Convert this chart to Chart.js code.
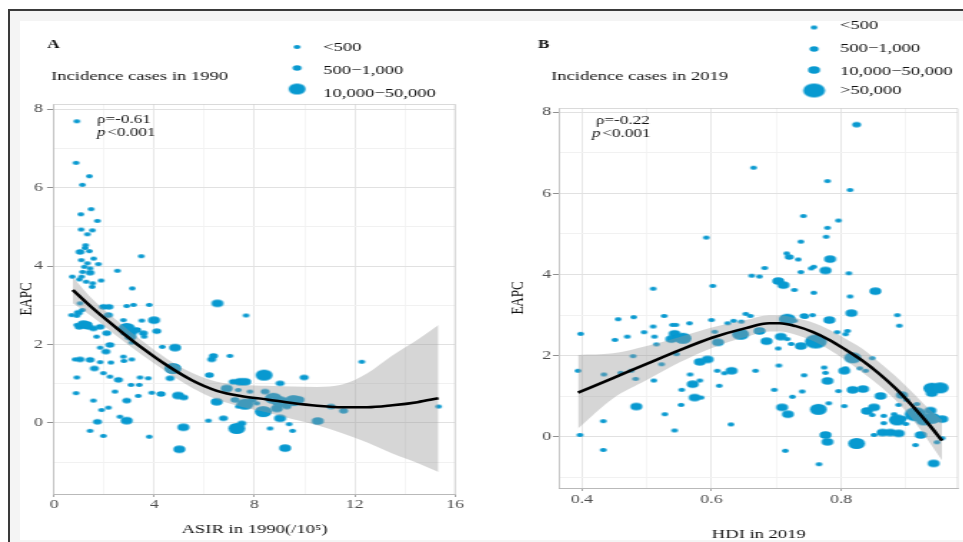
<!DOCTYPE html>
<html><head><meta charset="utf-8"><title>EAPC vs ASIR / HDI</title>
<script src="https://cdn.jsdelivr.net/npm/chart.js@4/dist/chart.umd.min.js"></script>
<style>
html,body{margin:0;padding:0;width:963px;height:542px;overflow:hidden;background:#fff;position:relative;}
#frame{position:absolute;left:8px;top:9px;width:1100px;height:700px;border-top:2px solid #3a3a3a;border-left:2px solid #3a3a3a;background:#f4f4f4;}
#inner{position:absolute;left:20px;top:21px;width:1100px;height:519px;background:#fff;}
.cv{position:absolute;top:0;transform-origin:0 0;transform:scaleX(1.43);}
</style></head>
<body>
<div id="frame"></div><div id="inner"></div>
<canvas id="cA" class="cv" width="336" height="542" style="left:0"></canvas>
<canvas id="cB" class="cv" width="338" height="542" style="left:480px"></canvas>
<script>
// ================= DATA =================
// Panel A : ASIR in 1990 vs EAPC, grouped by size class of incidence cases
const aXs = [[0.91,7.69],[0.88,6.63],[1.41,6.29],[1.13,6.07],[1.48,5.45],[1.07,5.32],[1.73,5.15],[1.08,4.93],[1.53,4.91],[1.33,4.81],[1.26,4.53],[1.24,4.46],[1.41,4.38],[1.09,4.15],[1.58,4.19],[1.77,4.05],[1.33,4.07],[1.21,3.98],[1.44,3.94],[3.48,4.25],[2.53,3.88],[1.14,3.85],[0.73,3.73],[1.10,3.73],[1.01,3.66],[1.28,3.60],[1.88,3.63],[1.54,3.56],[1.52,3.47],[3.12,3.43],[7.66,2.74],[1.04,3.05],[2.90,2.98],[3.17,3.01],[3.80,3.01],[0.91,2.73],[1.13,2.88],[0.70,2.75],[2.77,2.62],[3.50,2.61],[0.91,2.50],[1.70,2.20],[3.60,2.20],[3.10,2.05],[1.84,1.92],[4.32,1.94],[2.77,1.69],[0.84,1.62],[1.84,1.55],[2.27,1.54],[2.79,1.58],[3.10,1.62],[7.02,1.71],[12.28,1.56],[0.91,1.16],[1.97,1.27],[2.23,1.18],[3.43,1.16],[3.76,1.14],[3.07,0.97],[3.40,0.97],[2.43,0.80],[3.90,0.77],[3.36,0.69],[0.88,0.76],[7.35,0.84],[7.82,0.80],[7.35,0.42],[8.09,0.50],[15.34,0.42],[9.38,-0.03],[9.52,-0.20],[8.62,-0.14],[6.16,0.06],[3.80,-0.35],[2.63,0.16],[1.44,-0.20],[1.97,-0.33],[1.57,0.57],[1.90,0.33],[2.17,0.39]];
const aS = [[1.04,4.36],[1.44,3.83],[1.97,2.96],[2.19,2.96],[2.17,2.75],[0.97,2.81],[1.37,2.45],[1.84,2.45],[3.30,2.37],[2.10,2.29],[3.56,2.29],[4.10,2.34],[2.07,1.82],[1.04,1.62],[1.44,1.61],[1.61,1.39],[6.29,1.62],[7.15,1.05],[2.57,1.10],[4.27,0.74],[9.02,1.01],[9.98,1.16],[8.42,0.80],[9.29,0.42],[11.05,0.42],[11.55,0.31],[7.22,0.59],[7.49,-0.01],[6.76,0.12],[1.73,0.03],[2.90,0.57],[6.36,1.71],[6.20,1.22],[4.63,1.14],[2.23,1.99],[1.57,2.41],[2.83,2.29],[1.00,2.45],[7.90,0.58],[1.20,2.47],[5.18,0.65]];
const aM = [[6.52,3.05],[3.99,2.62],[1.17,2.52],[1.30,2.50],[3.10,2.33],[3.05,2.20],[4.83,1.92],[7.42,1.05],[7.62,1.05],[6.89,0.88],[4.95,0.70],[9.02,0.12],[8.89,0.37],[9.75,0.59],[6.49,0.54],[5.16,-0.11],[5.00,-0.67],[9.22,-0.64],[2.90,0.06],[10.52,0.05]];
const aL = [[2.90,2.41],[8.38,1.22],[7.29,-0.14],[8.75,0.63],[9.02,0.54],[9.55,0.57],[8.35,0.29],[7.62,0.48],[4.74,1.39]];
// fitted curve and confidence band, panel A
const fitAx = [0.75,1.5,2.5,3.5,4.5,5.5,6.5,7.5,8.5,9.5,10.5,11.5,12.5,13.5,14.5,15.34];
const fitAy = [3.39,2.95,2.42,1.92,1.47,1.09,0.82,0.68,0.60,0.51,0.44,0.40,0.40,0.45,0.53,0.63];
const bandAhi = [3.72,3.18,2.62,2.10,1.64,1.28,1.05,0.97,0.95,0.93,0.92,0.98,1.27,1.72,2.12,2.50];
const bandAlo = [3.05,2.72,2.22,1.74,1.30,0.90,0.60,0.41,0.27,0.10,-0.06,-0.26,-0.50,-0.78,-1.02,-1.25];

// Panel B : HDI in 2019 vs EAPC
const bXs = [[0.665,6.63],[0.779,6.30],[0.814,6.08],[0.742,5.44],[0.796,5.33],[0.779,5.15],[0.592,4.91],[0.777,4.93],[0.738,4.81],[0.716,4.52],[0.734,4.37],[0.682,4.16],[0.758,4.19],[0.754,4.15],[0.738,4.06],[0.812,4.03],[0.662,3.97],[0.674,3.95],[0.728,3.62],[0.758,3.55],[0.510,3.65],[0.602,3.72],[0.814,3.46],[0.653,3.03],[0.660,2.98],[0.887,3.00],[0.745,2.96],[0.756,3.00],[0.456,2.90],[0.480,2.95],[0.527,2.98],[0.600,2.88],[0.890,2.74],[0.728,2.86],[0.398,2.54],[0.451,2.39],[0.470,2.47],[0.496,2.58],[0.510,2.72],[0.512,2.47],[0.515,2.28],[0.540,2.76],[0.545,2.76],[0.566,2.80],[0.546,2.04],[0.479,1.99],[0.523,1.79],[0.605,2.59],[0.625,2.80],[0.634,2.86],[0.646,2.84],[0.703,2.18],[0.717,2.41],[0.723,2.29],[0.794,2.58],[0.810,2.61],[0.807,2.53],[0.848,1.94],[0.829,1.69],[0.838,1.63],[0.774,1.71],[0.776,1.58],[0.807,1.69],[0.394,1.63],[0.434,1.54],[0.460,1.58],[0.476,1.63],[0.483,1.43],[0.511,1.39],[0.567,1.54],[0.609,1.63],[0.620,1.57],[0.668,1.63],[0.704,1.76],[0.743,1.52],[0.612,1.26],[0.554,1.16],[0.582,1.39],[0.584,0.97],[0.697,1.16],[0.725,0.99],[0.740,1.12],[0.796,1.13],[0.901,0.91],[0.917,0.81],[0.889,0.79],[0.781,0.83],[0.805,0.76],[0.848,0.54],[0.866,0.52],[0.882,0.56],[0.866,0.34],[0.897,0.46],[0.900,0.32],[0.915,-0.20],[0.851,0.05],[0.948,-0.13],[0.956,-0.03],[0.766,-0.67],[0.714,-0.34],[0.433,-0.32],[0.397,0.05],[0.433,0.39],[0.528,0.56],[0.543,0.16],[0.553,0.79],[0.630,0.31]];
const bS = [[0.824,7.69],[0.720,4.43],[0.743,2.98]];
const bM = [[0.783,4.38],[0.776,4.10],[0.703,3.84],[0.711,3.74],[0.853,3.59],[0.816,3.05],[0.782,2.88],[0.543,2.54],[0.538,2.41],[0.594,1.91],[0.582,1.85],[0.610,2.33],[0.674,2.61],[0.685,2.36],[0.707,2.47],[0.738,2.24],[0.805,1.63],[0.779,1.38],[0.631,1.63],[0.571,1.30],[0.574,0.97],[0.818,1.16],[0.834,1.18],[0.861,1.01],[0.709,0.73],[0.718,0.56],[0.840,0.64],[0.851,0.73],[0.938,0.65],[0.956,0.44],[0.923,0.05],[0.864,0.11],[0.876,0.11],[0.889,0.09],[0.776,0.05],[0.779,-0.12],[0.943,-0.65],[0.484,0.75],[0.940,1.08],[0.894,1.03]];
const bL = [[0.717,2.90],[0.556,2.43],[0.645,2.53],[0.818,1.95],[0.940,1.20],[0.953,1.21],[0.765,0.68],[0.887,0.42],[0.928,0.42],[0.940,0.46],[0.824,-0.16]];
const bXl = [[0.761,2.35],[0.915,0.56]];
// fitted curve and confidence band, panel B
const fitBx = [0.394,0.448,0.500,0.551,0.602,0.653,0.689,0.705,0.730,0.756,0.782,0.807,0.833,0.858,0.884,0.910,0.935,0.956];
const fitBy = [1.09,1.45,1.80,2.14,2.45,2.68,2.80,2.80,2.73,2.59,2.39,2.15,1.88,1.57,1.20,0.77,0.32,-0.09];
const bandBhi = [2.02,2.06,2.24,2.46,2.70,2.88,3.00,3.00,2.93,2.82,2.64,2.42,2.17,1.85,1.50,1.10,0.70,0.42];
const bandBlo = [0.21,0.95,1.40,1.84,2.20,2.46,2.60,2.60,2.52,2.37,2.15,1.89,1.59,1.28,0.91,0.44,-0.10,-0.58];

// ticks and labels
const xTicksA = [0,2,4,6,8,10,12,14,16];
const xLabelsA = ['0','','4','','8','','12','','16'];
const xTicksB = [0.4,0.5,0.6,0.7,0.8,0.9];
const xLabelsB = ['0.4','','0.6','','0.8',''];
const yTicks = [-1,0,1,2,3,4,5,6,7,8];
const yLabels = ['','0','','2','','4','','6','','8'];

// texts
const legendTitleA = 'Incidence cases in 1990';
const legendTitleB = 'Incidence cases in 2019';
const legendLabelsA = ['<500','500\u22121,000','10,000\u221250,000'];
const legendLabelsB = ['<500','500\u22121,000','10,000\u221250,000','>50,000'];
const corrA = '\u03c1=-0.61';
const corrB = '\u03c1=-0.22';
const pText = '<0.001';
const xTitleA = 'ASIR in 1990(/10\u2075)';
const xTitleB = 'HDI in 2019';
const yTitle = 'EAPC';

// ================= STYLE =================
const FONT = '"Liberation Serif", "DejaVu Serif", serif';
const BLUE = '#0899d0';
const MAJOR = '#e1e1e1', MINOR = '#f1f1f1', TICKC = '#8f8f8f', AXIS = '#b9b9b9';

function ellipse(rx, ry){
  const c = document.createElement('canvas');
  const w = Math.ceil(rx*2)+2, h = Math.ceil(ry*2)+2;
  c.width = w; c.height = h;
  const g = c.getContext('2d');
  g.fillStyle = BLUE; g.beginPath(); g.ellipse(w/2, h/2, rx, ry, 0, 0, Math.PI*2); g.fill();
  return c;
}
const SPRITES = {xs: ellipse(2.45,2.0), s: ellipse(3.15,2.75), m: ellipse(4.2,3.75), l: ellipse(5.95,5.5), xl: ellipse(7.7,7.0)};

const decor = {
  id: 'decor',
  afterDraw(chart, args, o){
    const ctx = chart.ctx, a = chart.chartArea;
    ctx.save();
    ctx.strokeStyle = '#d0d0d0'; ctx.lineWidth = 0.8;
    ctx.beginPath(); ctx.moveTo(a.left, a.top+0.5); ctx.lineTo(a.right, a.top+0.5); ctx.lineTo(a.right, a.bottom); ctx.stroke();
    ctx.textBaseline = 'middle'; ctx.textAlign = 'left'; ctx.fillStyle = '#111';
    ctx.font = 'bold 12px ' + FONT; ctx.fillText(o.tag, o.tagX, o.tagY);
    ctx.font = '13px ' + FONT; ctx.fillText(o.title, o.titleX, o.titleY);
    for (let i = 0; i < o.labels.length; i++){
      const sp = SPRITES[o.sizes[i]];
      ctx.drawImage(sp, o.dotX - sp.width/2, o.dotY[i] - sp.height/2);
      ctx.fillText(o.labels[i], o.textX, o.textY[i]);
    }
    ctx.font = '12px ' + FONT; ctx.fillText(o.corr, o.corrX, o.corrY);
    ctx.font = 'italic 12px ' + FONT; ctx.fillText('p', o.pX, o.pY);
    const w = ctx.measureText('p').width;
    ctx.font = '12px ' + FONT; ctx.fillText(pText, o.pX + w + 1.2, o.pY);
    ctx.restore();
  }
};

function pts(data, size, order){
  return {type:'scatter', data: data.map(p => ({x:p[0], y:p[1]})), pointStyle: SPRITES[size], pointRadius: 3, backgroundColor: BLUE, borderWidth: 0, order: order};
}
function curve(xs, ys, extra){
  return Object.assign({type:'line', showLine:true, data: xs.map((x,i) => ({x:x, y:ys[i]})), pointRadius:0, cubicInterpolationMode:'monotone'}, extra);
}

function build(id, c){
  const datasets = [
    curve(c.fx, c.fy, {borderColor:'#000', borderWidth:2.6, fill:false, order:0}),
    curve(c.fx, c.hi, {borderColor:'rgba(0,0,0,0)', borderWidth:0, fill:'+1', backgroundColor:'rgba(153,153,153,0.4)', order:1}),
    curve(c.fx, c.lo, {borderColor:'rgba(0,0,0,0)', borderWidth:0, fill:false, order:2})
  ];
  c.groups.forEach((g, i) => datasets.push(pts(g[0], g[1], 10 - i)));
  return new Chart(document.getElementById(id), {
    type: 'scatter',
    data: {datasets: datasets},
    options: {
      responsive: false, animation: false, events: [],
      layout: {padding: c.pad},
      plugins: {legend: {display:false}, tooltip: {enabled:false}, decor: c.decor},
      scales: {
        x: {
          type:'linear', min:c.xMin, max:c.xMax,
          afterBuildTicks: s => { s.ticks = c.xTicks.map(v => ({value:v})); },
          afterFit: s => { s.height = c.xH; },
          ticks: {callback: (v,i) => c.xLabels[i], autoSkip:false, maxRotation:0, minRotation:0, padding:c.xTickPad, color:'#4d4d4d', font:{family:FONT, size:12.5}},
          grid: {color: t => c.xLabels[t.index] ? MAJOR : MINOR, tickColor: t => c.xLabels[t.index] ? TICKC : 'rgba(0,0,0,0)', tickLength:3, lineWidth:0.8},
          border: {color:AXIS, width:1},
          title: {display:true, text:c.xTitle, color:'#111', font:{family:FONT, size:13, lineHeight:c.xTitleLH}, padding:{top:0, bottom:c.xTitlePad}}
        },
        y: {
          type:'linear', min:c.yMin, max:c.yMax,
          afterBuildTicks: s => { s.ticks = yTicks.map(v => ({value:v})); },
          afterFit: s => { s.width = c.yW; },
          ticks: {callback: (v,i) => yLabels[i], autoSkip:false, padding:c.yTickPad, color:'#4d4d4d', font:{family:FONT, size:12.5}},
          grid: {color: t => yLabels[t.index] ? MAJOR : MINOR, tickColor: t => yLabels[t.index] ? TICKC : 'rgba(0,0,0,0)', tickLength:4.9, lineWidth:1},
          border: {color:AXIS, width:0.8},
          title: {display:true, text:yTitle, color:'#111', font:{family:FONT, size:13, lineHeight:1.2}, padding:{top:c.yTitlePad, bottom:0}}
        }
      }
    },
    plugins: [decor]
  });
}

build('cA', {
  fx: fitAx, fy: fitAy, hi: bandAhi, lo: bandAlo,
  groups: [[aXs,'xs'],[aS,'s'],[aM,'m'],[aL,'l']],
  pad: {left:0, right:17.8, top:104, bottom:0},
  xMin:0, xMax:16, yMin:-1.81, yMax:8.13,
  xTicks: xTicksA, xLabels: xLabelsA, xH:48, xTickPad:0.5,
  xTitle: xTitleA, xTitleLH:1.2, xTitlePad:4.2,
  yW:37.76, yTickPad:2.8, yTitlePad:11.1,
  decor: {tag:'A', tagX:32.9, tagY:45, title:legendTitleA, titleX:35.7, titleY:77,
          labels:legendLabelsA, sizes:['xs','s','l'], dotX:207.7, dotY:[47,68,89], textX:225.9, textY:[48,71,94],
          corr:corrA, corrX:67.8, corrY:119.5, pX:67.8, pY:133}
});

build('cB', {
  fx: fitBx, fy: fitBy, hi: bandBhi, lo: bandBlo,
  groups: [[bXs,'xs'],[bS,'s'],[bM,'m'],[bL,'l'],[bXl,'xl']],
  pad: {left:0, right:3.03, top:108, bottom:0},
  xMin:0.3662, xMax:0.98, yMin:-1.256, yMax:8.10,
  xTicks: xTicksB, xLabels: xLabelsB, xH:54, xTickPad:1.5,
  xTitle: xTitleB, xTitleLH:1.0, xTitlePad:0.5,
  yW:55.94, yTickPad:1.4, yTitlePad:18.8,
  decor: {tag:'B', tagX:40.6, tagY:45, title:legendTitleB, titleX:49.7, titleY:77,
          labels:legendLabelsB, sizes:['xs','s','m','xl'], dotX:233.6, dotY:[27.5,49,70,90.5], textX:251.7, textY:[25.5,48.5,71.5,91],
          corr:corrB, corrX:81.1, corrY:121, pX:78.3, pY:133.5}
});
</script>
</body></html>
